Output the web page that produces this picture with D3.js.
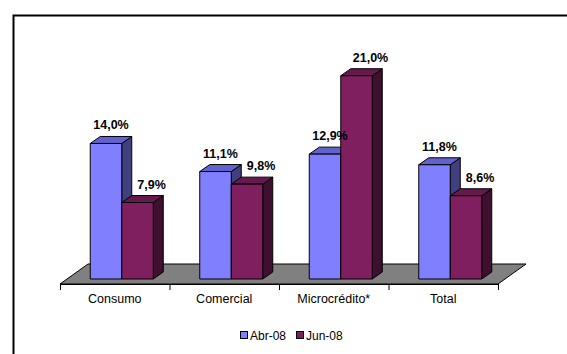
<!DOCTYPE html>
<html>
<head>
<meta charset="utf-8">
<script src="https://cdn.jsdelivr.net/npm/d3@7"></script>
<style>
  body { margin: 0; background: #fff; }
  svg { display: block; font-family: "Liberation Sans", Arial, sans-serif; }
</style>
</head>
<body>
<svg width="567" height="354"></svg>
<script>
// Data
var categories = ["Consumo", "Comercial", "Microcrédito*", "Total"];
var series = ["Abr-08", "Jun-08"];
var abr08 = [14.0, 11.1, 12.9, 11.8];
var jun08 = [7.9, 9.8, 21.0, 8.6];

// Colours (front, top, side)
var colors = {
  "Abr-08": { front: "#8080ff", top: "#6262cf", side: "#40407f" },
  "Jun-08": { front: "#7f1f5f", top: "#66194c", side: "#3f0f2f" }
};
var labelShift = { "Abr-08": 5, "Jun-08": 14 };

var svg = d3.select("svg"),
    width = 567,
    height = 354;

var floorLeft = 60, floorRight = 498, floorY = 284;
var floorDx = 28, floorDy = -20;
var barShiftX = 7, barShiftY = -5;  // bars sit a little behind the floor front edge
var depthX = 10, depthY = -7;       // bar depth

var x = d3.scaleBand().domain(categories).range([floorLeft, floorRight]);
var xs = d3.scaleBand().domain(series).range([0, 63]);
var y = d3.scaleLinear().domain([0, 25]).range([floorY + barShiftY, 37]);

var fmt = d3.formatLocale({ decimal: ",", thousands: ".", grouping: [3], currency: ["", ""] }).format(".1f");

// Outer border
svg.append("rect")
    .attr("x", 13.5).attr("y", 15.5)
    .attr("width", 620).attr("height", 420)
    .attr("fill", "none").attr("stroke", "#000").attr("stroke-width", 2);

// Floor
svg.append("path")
    .attr("d", d3.line()([
      [floorLeft, floorY], [floorRight, floorY],
      [floorRight + floorDx, floorY + floorDy], [floorLeft + floorDx, floorY + floorDy]
    ]) + "Z")
    .attr("fill", "#808080").attr("stroke", "#000").attr("stroke-width", 1);

// Axis line & ticks
var axis = d3.axisBottom(x).tickSize(0).tickFormat("");
svg.append("g").attr("transform", "translate(0," + floorY + ")").call(axis)
    .select(".domain").attr("stroke", "#000");
svg.append("g").selectAll("line")
    .data(categories.map(function(c) { return x(c); }).concat([floorRight]))
  .enter().append("line")
    .attr("x1", function(d) { return d + 0.5; }).attr("x2", function(d) { return d + 0.5; })
    .attr("y1", floorY).attr("y2", floorY + 6)
    .attr("stroke", "#000");

// Bars
var bars = [];
categories.forEach(function(c, i) {
  bars.push({ cat: c, s: "Abr-08", v: abr08[i] });
  bars.push({ cat: c, s: "Jun-08", v: jun08[i] });
});

var offset = (x.bandwidth() - 63) / 2;

var g = svg.append("g").attr("stroke", "#000").attr("stroke-width", 1).attr("stroke-linejoin", "round");
bars.forEach(function(d) {
  var x0 = x(d.cat) + offset + xs(d.s) + barShiftX,
      x1 = x0 + xs.bandwidth(),
      y0 = y(0),
      y1 = y(d.v),
      col = colors[d.s];
  // side
  g.append("path")
      .attr("d", d3.line()([[x1, y0], [x1 + depthX, y0 + depthY], [x1 + depthX, y1 + depthY], [x1, y1]]) + "Z")
      .attr("fill", col.side);
  // top
  g.append("path")
      .attr("d", d3.line()([[x0, y1], [x1, y1], [x1 + depthX, y1 + depthY], [x0 + depthX, y1 + depthY]]) + "Z")
      .attr("fill", col.top);
  // front
  g.append("rect")
      .attr("x", x0).attr("y", y1)
      .attr("width", x1 - x0).attr("height", y0 - y1)
      .attr("fill", col.front);
  // value label
  svg.append("text")
      .attr("x", (x0 + x1) / 2 + labelShift[d.s])
      .attr("y", y1 + depthY - 7)
      .attr("text-anchor", "middle")
      .attr("font-size", 12.5).attr("font-weight", "bold")
      .text(fmt(d.v) + "%");
});

// Category labels
svg.append("g").selectAll("text")
    .data(categories)
  .enter().append("text")
    .attr("x", function(d) { return x(d) + x.bandwidth() / 2; })
    .attr("y", 303)
    .attr("text-anchor", "middle")
    .attr("font-size", 12.5)
    .text(function(d) { return d; });

// Legend
var legendX = [240, 296];
var legend = svg.append("g").selectAll("g")
    .data(series)
  .enter().append("g")
    .attr("transform", function(d, i) { return "translate(" + legendX[i] + ",331)"; });
legend.append("rect")
    .attr("x", 0.5).attr("y", 0.5).attr("width", 7).attr("height", 7)
    .attr("fill", function(d) { return colors[d].front; })
    .attr("stroke", "#000");
legend.append("text")
    .attr("x", 10).attr("y", 8.5)
    .attr("font-size", 12)
    .text(function(d) { return d; });
</script>
</body>
</html>
